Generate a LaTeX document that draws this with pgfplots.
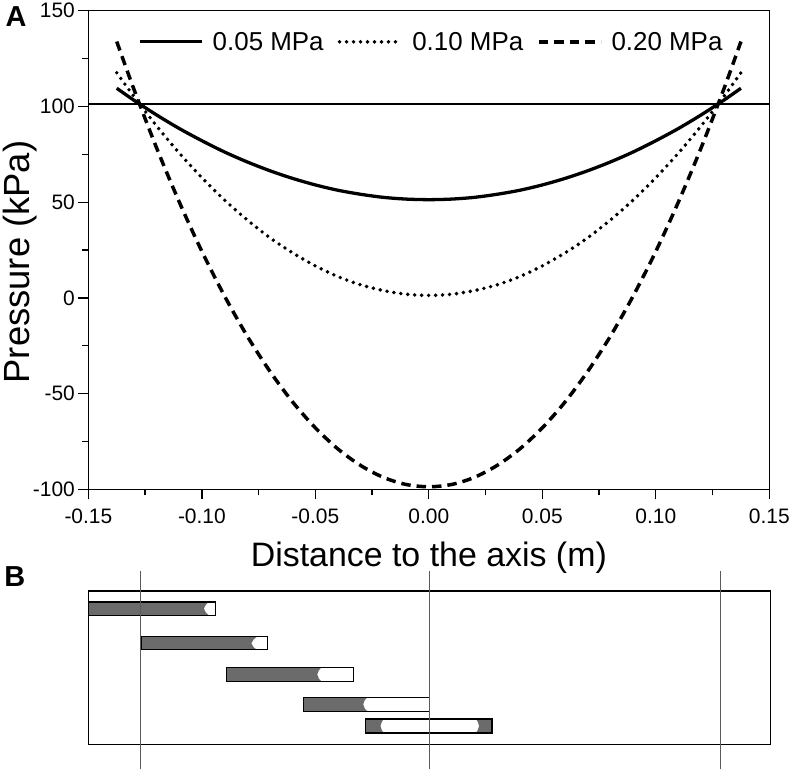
\documentclass[border=0pt]{standalone}
\usepackage{fontspec}
\setmainfont{Liberation Sans}
\usepackage{pgfplots}
\pgfplotsset{compat=1.18}
\definecolor{bardark}{HTML}{6B6B6B}
\definecolor{vline}{HTML}{5A5A5A}
\begin{document}
\begin{tikzpicture}
\begin{axis}[
  name=A,
  at={(0,0)}, anchor=south west,
  scale only axis, width=683pt, height=480pt,
  xmin=-0.15, xmax=0.15, ymin=-100, ymax=150,
  xtick={-0.15,-0.10,-0.05,0,0.05,0.10,0.15},
  ytick={-100,-50,0,50,100,150},
  minor x tick num=1, minor y tick num=1,
  tick align=outside, xtick pos=bottom, ytick pos=left,
  major tick length=10pt, minor tick length=6pt,
  tick style={black, line width=1.3pt},
  axis line style={line width=1.5pt},
  clip mode=individual,
  /pgf/number format/assume math mode=true,
  xticklabel style={yshift=-6pt, /pgf/number format/.cd, fixed, fixed zerofill, precision=2},
  ticklabel style={font=\fontsize{21}{25}\selectfont},
  xlabel={Distance to the axis (m)}, ylabel={Pressure (kPa)},
  xlabel style={font=\fontsize{34}{40}\selectfont, at={(rel axis cs:0.5,-0.142)}, anchor=center},
  ylabel style={font=\fontsize{36.5}{42}\selectfont, at={(rel axis cs:-0.100,0.475)}, anchor=center},
  legend columns=3,
  legend style={draw=none, fill=none, at={(rel axis cs:0.504,0.935)}, anchor=center,
    font=\fontsize{26}{30}\selectfont, inner sep=0pt,
    /tikz/every odd column/.append style={column sep=7pt},
    /tikz/every even column/.append style={column sep=12pt}},
  legend image code/.code={\draw[#1] (0pt,0pt) -- (62pt,0pt);},
]
\addplot[line width=1.5pt, forget plot] coordinates {(-0.15,101.3) (0.15,101.3)};
\addplot[black, line width=3.3pt, smooth] coordinates {
(-0.1375,109.5) (-0.13,103.3) (-0.12,95.6) (-0.11,88.5) (-0.10,82.1) (-0.09,76.2) (-0.08,71.0) (-0.07,66.4) (-0.06,62.4) (-0.05,59.0) (-0.04,56.2) (-0.03,54.1) (-0.02,52.5) (-0.01,51.6) (0,51.3)
(0.01,51.6) (0.02,52.5) (0.03,54.1) (0.04,56.2) (0.05,59.0) (0.06,62.4) (0.07,66.4) (0.08,71.0) (0.09,76.2) (0.10,82.1) (0.11,88.5) (0.12,95.6) (0.13,103.3) (0.1375,109.5)};
\addlegendentry{0.05 MPa}
\addplot[black, line width=3.9pt, line cap=round, dash pattern=on 0pt off 7pt, smooth] coordinates {
(-0.1375,117.6) (-0.13,105.3) (-0.12,89.9) (-0.11,75.7) (-0.10,62.8) (-0.09,51.1) (-0.08,40.7) (-0.07,31.4) (-0.06,23.5) (-0.05,16.7) (-0.04,11.1) (-0.03,6.8) (-0.02,3.8) (-0.01,1.9) (0,1.3)
(0.01,1.9) (0.02,3.8) (0.03,6.8) (0.04,11.1) (0.05,16.7) (0.06,23.5) (0.07,31.4) (0.08,40.7) (0.09,51.1) (0.10,62.8) (0.11,75.7) (0.12,89.9) (0.13,105.3) (0.1375,117.6)};
\addlegendentry{0.10 MPa}
\addplot[black, line width=3.5pt, dash pattern=on 9.5pt off 6pt, smooth] coordinates {
(-0.1375,133.9) (-0.13,109.2) (-0.12,78.5) (-0.11,50.2) (-0.10,24.3) (-0.09,0.95) (-0.08,-20.0) (-0.07,-38.4) (-0.06,-54.4) (-0.05,-67.9) (-0.04,-79.0) (-0.03,-87.6) (-0.02,-93.8) (-0.01,-97.5) (0,-98.7)
(0.01,-97.5) (0.02,-93.8) (0.03,-87.6) (0.04,-79.0) (0.05,-67.9) (0.06,-54.4) (0.07,-38.4) (0.08,-20.0) (0.09,0.95) (0.10,24.3) (0.11,50.2) (0.12,78.5) (0.13,109.2) (0.1375,133.9)};
\addlegendentry{0.20 MPa}
\node[font=\bfseries\fontsize{29}{33}\selectfont] at (rel axis cs:-0.106,0.987) {A};
\end{axis}

\begin{axis}[
  name=B,
  at={(0,-256pt)}, anchor=south west,
  scale only axis, width=684pt, height=154pt,
  xmin=-0.15, xmax=0.15, ymin=0, ymax=154,
  xtick=\empty, ytick=\empty,
  axis line style={line width=1.5pt},
  clip=false,
]
% dark parts of the bars
\addplot[fill=bardark, draw=none] coordinates {(-0.15,129.6) (-0.0970,129.6) (-0.0983,132.3) (-0.0992,136.3) (-0.0983,140.3) (-0.0970,143.0) (-0.15,143.0)} --cycle;
\addplot[fill=bardark, draw=none] coordinates {(-0.1269,95) (-0.0759,95) (-0.0773,97.6) (-0.0783,101.5) (-0.0773,105.4) (-0.0759,108) (-0.1269,108)} --cycle;
\addplot[fill=bardark, draw=none] coordinates {(-0.0891,63.3) (-0.0475,63.3) (-0.0486,66.1) (-0.0493,70.3) (-0.0486,74.5) (-0.0475,77.3) (-0.0891,77.3)} --cycle;
\addplot[fill=bardark, draw=none] coordinates {(-0.0554,33.3) (-0.0273,33.3) (-0.0284,36.1) (-0.0291,40.3) (-0.0284,44.5) (-0.0273,47.3) (-0.0554,47.3)} --cycle;
\addplot[fill=bardark, draw=none] coordinates {(-0.0281,11.6) (-0.0201,11.6) (-0.0209,14.4) (-0.0215,18.6) (-0.0209,22.8) (-0.0201,25.6) (-0.0281,25.6)} --cycle;
\addplot[fill=bardark, draw=none] coordinates {(0.0275,11.6) (0.0205,11.6) (0.0213,14.4) (0.0219,18.6) (0.0213,22.8) (0.0205,25.6) (0.0275,25.6)} --cycle;
% outlines
\addplot[draw=black, line width=1.3pt] coordinates {(-0.15,129.6) (-0.0941,129.6) (-0.0941,143.0) (-0.15,143.0)} --cycle;
\addplot[draw=black, line width=1.3pt] coordinates {(-0.1269,95) (-0.0711,95) (-0.0711,108) (-0.1269,108)} --cycle;
\addplot[draw=black, line width=1.3pt] coordinates {(-0.0891,63.3) (-0.0335,63.3) (-0.0335,77.3) (-0.0891,77.3)} --cycle;
\addplot[draw=black, line width=1.3pt] coordinates {(-0.0554,33.3) (0.0,33.3) (0.0,47.3) (-0.0554,47.3)} --cycle;
\addplot[draw=black, line width=1.3pt] coordinates {(-0.0281,11.6) (0.0275,11.6) (0.0275,25.6) (-0.0281,25.6)} --cycle;
% vertical reference lines
\addplot[vline, line width=1.1pt] coordinates {(-0.1269,-25) (-0.1269,174)};
\addplot[vline, line width=1.1pt] coordinates {(0,-25) (0,174)};
\addplot[vline, line width=1.1pt] coordinates {(0.1282,-25) (0.1282,174)};
\node[font=\bfseries\fontsize{29}{33}\selectfont] at (rel axis cs:-0.108,1.093) {B};
\end{axis}
\end{tikzpicture}
\end{document}
